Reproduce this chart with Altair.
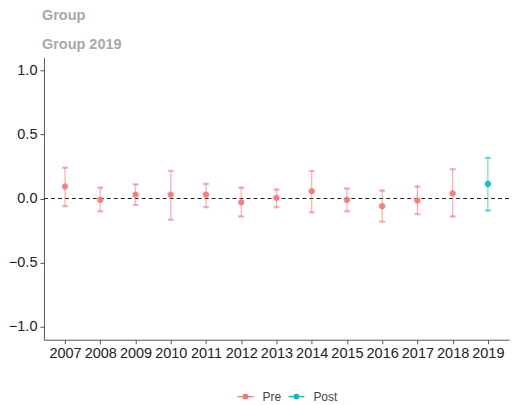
import altair as alt
import pandas as pd

years = ["2007","2008","2009","2010","2011","2012","2013","2014","2015","2016","2017","2018","2019"]
estimate = [0.093,-0.01,0.03,0.03,0.03,-0.03,0.005,0.057,-0.01,-0.06,-0.016,0.04,0.114]
lower = [-0.06,-0.10,-0.05,-0.165,-0.067,-0.14,-0.068,-0.107,-0.10,-0.18,-0.122,-0.14,-0.093]
upper = [0.24,0.085,0.11,0.215,0.115,0.085,0.07,0.215,0.078,0.062,0.093,0.228,0.317]
period = ["Pre"]*12 + ["Post"]

df = pd.DataFrame({"year": years, "est": estimate, "lo": lower, "hi": upper, "period": period})

dom = ["Pre", "Post"]
rng = ["#F8766D", "#00BFC4"]

leg = alt.Legend(title=None, orient="none", direction="horizontal", legendX=193, legendY=331,
                 symbolType="M-1,0L1,0M-0.3,0A0.3,0.3 0 1,1 0.3,0A0.3,0.3 0 1,1 -0.3,0",
                 symbolSize=256, symbolStrokeWidth=1.2, symbolOpacity=1, labelFontSize=12,
                 labelOffset=8, labelColor="#444444", labelFont="Liberation Sans", columnPadding=4)

xenc = alt.X("year:O", scale=alt.Scale(type="point", padding=0.6), title=None,
             axis=alt.Axis(labelAngle=0, labelFontSize=14.5, labelColor="#222222", labelFont="Liberation Sans",
                           domainColor="#555555", tickColor="#555555", tickSize=4, labelPadding=3, grid=False))
yscale = alt.Scale(domain=[-1.1, 1.1], nice=False, zero=False)

base = alt.Chart(df)

bars = base.mark_errorbar(ticks=alt.MarkConfig(size=5), opacity=0.55, thickness=1.3).encode(
    x=xenc,
    y=alt.Y("lo:Q", scale=yscale, title=None,
            axis=alt.Axis(values=[-1.0,-0.5,0.0,0.5,1.0], format=".1f", labelFontSize=14.5,
                          labelColor="#222222", labelFont="Liberation Sans", domainColor="#555555",
                          tickColor="#555555", tickSize=4, labelPadding=3, grid=False)),
    y2="hi:Q",
    stroke=alt.Stroke("period:N", scale=alt.Scale(domain=dom, range=rng), legend=leg),
)

pts = base.mark_point(size=30, opacity=0.9, strokeWidth=1).encode(
    x=xenc,
    y=alt.Y("est:Q", scale=yscale),
    stroke=alt.Stroke("period:N", scale=alt.Scale(domain=dom, range=rng), legend=leg),
    fill=alt.Fill("period:N", scale=alt.Scale(domain=dom, range=rng), legend=leg),
)

zero = alt.Chart(pd.DataFrame({"z": [0.0]})).mark_rule(color="#222222", strokeDash=[4, 3], strokeWidth=1).encode(
    y=alt.Y("z:Q", scale=yscale)
)

chart = alt.layer(zero, bars, pts).properties(
    width=466, height=283,
    title=alt.TitleParams(text="Group", subtitle="Group 2019", anchor="start", frame="group",
                          font="Liberation Sans", fontSize=14.5, fontWeight="bold", color="#A8A8A8",
                          subtitleFont="Liberation Sans", subtitleFontSize=14.5, subtitleFontWeight="bold",
                          subtitleColor="#A8A8A8", subtitlePadding=14, dx=-2, offset=5),
    padding={"left": 0, "top": 0, "right": 0, "bottom": 0},
).configure_view(stroke=None)

chart.save("out.html", embed_options={"renderer": "svg", "actions": False})
